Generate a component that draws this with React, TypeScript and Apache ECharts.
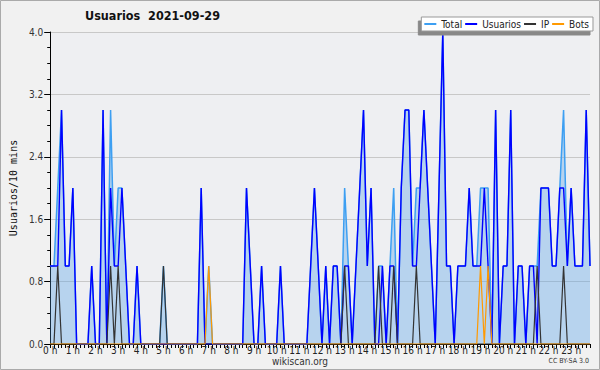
import React, { useEffect, useRef } from "react";
import * as echarts from "echarts";

const hourLabels = [
  "0 h", "1 h", "2 h", "3 h", "4 h", "5 h", "6 h", "7 h", "8 h", "9 h", "10 h", "11 h",
  "12 h", "13 h", "14 h", "15 h", "16 h", "17 h", "18 h", "19 h", "20 h", "21 h", "22 h", "23 h",
];
const minuteSlots = ["00", "10", "20", "30", "40", "50"];

const usuarios = [
  1, 1, 1, 3, 1, 1, 2, 0, 0, 0, 0, 1,
  0, 0, 3, 0, 2, 1, 1, 2, 1, 0, 0, 1,
  0, 0, 0, 0, 0, 0, 0, 0, 0, 0, 0, 0,
  0, 0, 0, 0, 2, 0, 0, 0, 0, 0, 0, 0,
  0, 0, 0, 0, 2, 1, 0, 0, 1, 0, 0, 0,
  0, 1, 0, 0, 0, 0, 0, 0, 0, 1, 2, 1,
  0, 1, 0, 1, 1, 0, 1, 1, 0, 1, 2, 3,
  1, 2, 0, 0, 1, 0, 1, 1, 0, 2, 3, 3,
  1, 1, 2, 3, 2, 1, 0, 2, 4, 1, 1, 0,
  1, 1, 1, 2, 1, 1, 1, 2, 1, 0, 3, 0,
  1, 1, 3, 0, 1, 1, 0, 1, 1, 0, 2, 2,
  2, 1, 1, 2, 2, 1, 2, 1, 1, 1, 3, 1,
];

const ip = [
  0, 0, 1, 0, 0, 0, 0, 0, 0, 0, 0, 0,
  0, 0, 0, 0, 1, 0, 1, 0, 0, 0, 0, 0,
  0, 0, 0, 0, 0, 0, 1, 0, 0, 0, 0, 0,
  0, 0, 0, 0, 0, 0, 0, 0, 0, 0, 0, 0,
  0, 0, 0, 0, 0, 0, 0, 0, 0, 0, 0, 0,
  0, 0, 0, 0, 0, 0, 0, 0, 0, 0, 0, 0,
  0, 0, 0, 0, 0, 0, 1, 0, 0, 0, 0, 0,
  0, 0, 0, 1, 0, 0, 0, 1, 0, 0, 0, 0,
  0, 1, 0, 0, 0, 0, 0, 0, 0, 0, 0, 0,
  0, 0, 0, 0, 0, 0, 0, 0, 0, 0, 0, 0,
  0, 0, 0, 0, 0, 0, 0, 0, 0, 1, 0, 0,
  0, 0, 0, 0, 1, 0, 0, 0, 0, 0, 0, 0,
];

const bots = [
  0, 0, 0, 0, 0, 0, 0, 0, 0, 0, 0, 0,
  0, 0, 0, 0, 0, 0, 0, 0, 0, 0, 0, 0,
  0, 0, 0, 0, 0, 0, 0, 0, 0, 0, 0, 0,
  0, 0, 0, 0, 0, 0, 1, 0, 0, 0, 0, 0,
  0, 0, 0, 0, 0, 0, 0, 0, 0, 0, 0, 0,
  0, 0, 0, 0, 0, 0, 0, 0, 0, 0, 0, 0,
  0, 0, 0, 0, 0, 0, 0, 0, 0, 0, 0, 0,
  0, 0, 0, 0, 0, 0, 0, 0, 0, 0, 0, 0,
  0, 0, 0, 0, 0, 0, 0, 0, 0, 0, 0, 0,
  0, 0, 0, 0, 0, 0, 1, 0, 1, 0, 0, 0,
  0, 0, 0, 0, 0, 0, 0, 0, 0, 0, 0, 0,
  0, 0, 0, 0, 0, 0, 0, 0, 0, 0, 0, 0,
];

const total = [
  1, 1, 2, 3, 1, 1, 2, 0, 0, 0, 0, 1,
  0, 0, 3, 0, 3, 1, 2, 2, 1, 0, 0, 1,
  0, 0, 0, 0, 0, 0, 1, 0, 0, 0, 0, 0,
  0, 0, 0, 0, 2, 0, 1, 0, 0, 0, 0, 0,
  0, 0, 0, 0, 2, 1, 0, 0, 1, 0, 0, 0,
  0, 1, 0, 0, 0, 0, 0, 0, 0, 1, 2, 1,
  0, 1, 0, 1, 1, 0, 2, 1, 0, 1, 2, 3,
  1, 2, 0, 1, 1, 0, 1, 2, 0, 2, 3, 3,
  1, 2, 2, 3, 2, 1, 0, 2, 4, 1, 1, 0,
  1, 1, 1, 2, 1, 1, 2, 2, 2, 0, 3, 0,
  1, 1, 3, 0, 1, 1, 0, 1, 1, 1, 2, 2,
  2, 1, 1, 2, 3, 1, 2, 1, 1, 1, 3, 1,
];

const slots: string[] = [];
hourLabels.forEach((h, hi) => {
  minuteSlots.forEach((m) => slots.push(`${hi}:${m}`));
});

const SANS = "'DejaVu Sans Condensed', 'DejaVu Sans', sans-serif";
const MONO = "'DejaVu Sans Mono', monospace";

export default function App() {
  const ref = useRef<HTMLDivElement>(null);
  useEffect(() => {
    if (!ref.current) return;
    const chart = echarts.init(ref.current, undefined, { renderer: "svg" });
    chart.setOption({
      animation: false,
      backgroundColor: "#f1f1f1",
      title: {
        text: "Usuarios\u00a0\u00a02021-09-29",
        left: 85,
        top: 9,
        padding: 0,
        textStyle: { fontFamily: SANS, fontSize: 12.5, fontWeight: "bold", color: "#111" },
      },
      legend: {
        right: 7,
        top: 17,
        padding: [2, 4, 2, 3],
        itemGap: 3,
        itemWidth: 12,
        itemHeight: 2,
        icon: "rect",
        backgroundColor: "#ffffff",
        borderColor: "#999",
        borderWidth: 1,
        borderRadius: 0,
        shadowColor: "#888",
        shadowBlur: 0,
        shadowOffsetX: -3,
        shadowOffsetY: 4,
        textStyle: { fontFamily: SANS, fontSize: 10, color: "#222" },
        data: ["Total", "Usuarios", "IP", "Bots"],
      },
      grid: {
        left: 46,
        right: 10,
        top: 32,
        bottom: 26,
        show: true,
        backgroundColor: "#eeeff2",
        borderWidth: 0,
      },
      xAxis: {
        type: "category",
        data: slots,
        boundaryGap: false,
        axisLine: { lineStyle: { color: "#000", width: 1 } },
        axisTick: { show: true, interval: 0, length: 4, lineStyle: { color: "#000" } },
        axisLabel: {
          interval: 5,
          margin: 1,
          fontFamily: SANS,
          fontSize: 10,
          color: "#222",
          formatter: (_v: string, idx: number) => hourLabels[Math.floor(idx / 6)],
        },
        splitLine: { show: false },
      },
      yAxis: {
        type: "value",
        min: 0,
        max: 4,
        interval: 0.8,
        name: "Usuarios/10 mins",
        nameLocation: "middle",
        nameGap: 30,
        nameTextStyle: { fontFamily: MONO, fontSize: 10, color: "#111" },
        axisLine: { show: true, lineStyle: { color: "#000", width: 1 } },
        axisTick: { show: true, length: 6, lineStyle: { color: "#000" } },
        minorTick: { show: true, splitNumber: 4, length: 3, lineStyle: { color: "#000" } },
        axisLabel: {
          margin: 7,
          fontFamily: SANS,
          fontSize: 10,
          color: "#333",
          formatter: (v: number) => v.toFixed(1),
        },
        splitLine: { show: true, lineStyle: { color: "#c8c8c8", width: 1 } },
      },
      series: [
        {
          name: "Total",
          type: "line",
          data: total,
          showSymbol: false,
          symbol: "none",
          lineStyle: { color: "#3d9ff2", width: 1.5 },
          itemStyle: { color: "#3d9ff2" },
          areaStyle: { color: "rgba(85,160,230,0.36)", opacity: 1 },
          z: 2,
        },
        {
          name: "Usuarios",
          type: "line",
          data: usuarios,
          showSymbol: false,
          symbol: "none",
          lineStyle: { color: "#0000ff", width: 1.4 },
          itemStyle: { color: "#0000ff" },
          z: 3,
        },
        {
          name: "IP",
          type: "line",
          data: ip,
          showSymbol: false,
          symbol: "none",
          lineStyle: { color: "#333333", width: 1.2 },
          itemStyle: { color: "#333333" },
          z: 4,
        },
        {
          name: "Bots",
          type: "line",
          data: bots,
          showSymbol: false,
          symbol: "none",
          lineStyle: { color: "#ff9900", width: 1.2 },
          itemStyle: { color: "#ff9900" },
          z: 5,
        },
      ],
      graphic: [
        {
          type: "rect",
          shape: { x: 0.5, y: 0.5, width: 599, height: 369 },
          style: { fill: "none", stroke: "#aaaaaa", lineWidth: 1 },
          silent: true,
          z: 100,
        },
        {
          type: "text",
          x: 300,
          y: 361,
          style: {
            text: "wikiscan.org",
            fontFamily: SANS,
            fontSize: 10,
            fill: "#333",
            align: "center",
            verticalAlign: "middle",
          },
        },
        {
          type: "text",
          x: 589,
          y: 361,
          style: {
            text: "CC BY-SA 3.0",
            fontFamily: SANS,
            fontSize: 7,
            fill: "#333",
            align: "right",
            verticalAlign: "middle",
          },
        },
      ],
    });
    return () => chart.dispose();
  }, []);
  return (
    <div
      ref={ref}
      style={{ position: "fixed", left: 0, top: 0, width: 600, height: 370 }}
    />
  );
}
